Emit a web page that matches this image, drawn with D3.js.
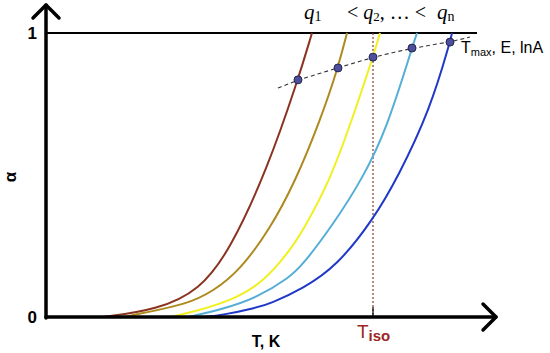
<!DOCTYPE html>
<html>
<head>
<meta charset="utf-8">
<script src="https://cdn.jsdelivr.net/npm/d3@7"></script>
<style>
  body { margin: 0; background: #fff; }
  svg { display: block; }
</style>
</head>
<body>
<svg width="550" height="353"></svg>
<script>
// conversion curves alpha(T) (T in arbitrary units)
var brownT = [57, 111, 154, 184, 221, 252, 266];
var brownA = [0, 0.025, 0.095, 0.236, 0.518, 0.835, 1];
var oliveT = [79, 94, 141, 167, 194, 224, 249, 274, 292, 301];
var oliveA = [0, 0.012, 0.045, 0.09, 0.165, 0.31, 0.475, 0.69, 0.877, 1];
var yellowT = [124, 144, 184, 217, 244, 257, 284, 307, 327, 334];
var yellowA = [0, 0.015, 0.055, 0.12, 0.235, 0.305, 0.48, 0.705, 0.915, 1];
var cyanT = [142, 177, 211, 244, 257, 287, 317, 341, 366, 371];
var cyanA = [0, 0.028, 0.068, 0.14, 0.185, 0.325, 0.49, 0.665, 0.947, 1];
var blueT = [157, 177, 211, 224, 257, 291, 327, 352, 384, 404, 406];
var blueA = [0, 0.007, 0.033, 0.047, 0.1, 0.18, 0.342, 0.493, 0.73, 0.968, 1];

var curveColors = ["#8a3320", "#ad8a1f", "#f0f020", "#55aed6", "#2038c8"];

// Tmax points and the dashed trend through them
var dotT = [252, 292, 327, 366, 404];
var dotA = [0.835, 0.877, 0.915, 0.947, 0.968];
var trendT = [232, 252, 292, 327, 366, 404, 424];
var trendA = [0.806, 0.835, 0.877, 0.915, 0.947, 0.968, 0.986];

var tIso = 327;
var alphaTicks = [0, 1];

var svg = d3.select("svg");
var x = d3.scaleLinear().domain([0, 450]).range([46, 496]);
var y = d3.scaleLinear().domain([0, 1]).range([317, 33]);

function zip(ts, as) {
    return ts.map(function (t, i) { return [t, as[i]]; });
}
var line = d3.line()
    .x(function (d) { return x(d[0]); })
    .y(function (d) { return y(d[1]); })
    .curve(d3.curveBasis);

// alpha = 1 line
svg.append("line")
    .attr("x1", x(0)).attr("x2", x(431))
    .attr("y1", y(1)).attr("y2", y(1))
    .attr("stroke", "#000").attr("stroke-width", 2);

// Tiso marker
svg.append("line")
    .attr("x1", x(tIso)).attr("x2", x(tIso))
    .attr("y1", y(1)).attr("y2", y(0))
    .attr("stroke", "#8b3a2a").attr("stroke-width", 1.2)
    .attr("stroke-dasharray", "2,2");
svg.append("line")
    .attr("x1", x(tIso)).attr("x2", x(tIso))
    .attr("y1", y(0) - 10).attr("y2", y(0))
    .attr("stroke", "#000").attr("stroke-width", 1.2);

var series = [zip(brownT, brownA), zip(oliveT, oliveA), zip(yellowT, yellowA), zip(cyanT, cyanA), zip(blueT, blueA)];
svg.append("g")
    .selectAll("path")
    .data(series)
    .join("path")
    .attr("d", line)
    .attr("fill", "none")
    .attr("stroke", function (d, i) { return curveColors[i]; })
    .attr("stroke-width", 2);

svg.append("path")
    .attr("d", line(zip(trendT, trendA)))
    .attr("fill", "none")
    .attr("stroke", "#333")
    .attr("stroke-width", 1.1)
    .attr("stroke-dasharray", "4,3");

svg.append("g")
    .selectAll("circle")
    .data(zip(dotT, dotA))
    .join("circle")
    .attr("cx", function (d) { return x(d[0]); })
    .attr("cy", function (d) { return y(d[1]); })
    .attr("r", 4)
    .attr("fill", "#4d4f9c")
    .attr("stroke", "#22264e")
    .attr("stroke-width", 1);

// axes with arrows
var ax = svg.append("g").attr("stroke", "#000").attr("stroke-width", 3.5)
    .attr("fill", "none").attr("stroke-linecap", "round").attr("stroke-linejoin", "round");
ax.append("line").attr("x1", x(0)).attr("x2", x(0)).attr("y1", y(0) + 1).attr("y2", 5);
ax.append("polyline").attr("points", [[x(0) - 13, 18], [x(0), 5], [x(0) + 13, 18]].join(" "));
ax.append("line").attr("x1", x(0)).attr("x2", x(450)).attr("y1", y(0)).attr("y2", y(0));
ax.append("polyline").attr("points", [[x(450) - 13, y(0) - 13], [x(450), y(0)], [x(450) - 13, y(0) + 13]].join(" "));

// alpha tick labels
svg.append("g")
    .selectAll("text")
    .data(alphaTicks)
    .join("text")
    .attr("x", 37)
    .attr("y", function (d) { return y(d) + 6; })
    .attr("text-anchor", "end")
    .attr("font-family", "Liberation Sans, sans-serif")
    .attr("font-weight", "bold")
    .attr("font-size", 17)
    .text(function (d) { return d; });

svg.append("text")
    .attr("transform", "translate(16,177) rotate(-90)")
    .attr("text-anchor", "middle")
    .attr("font-family", "Liberation Sans, sans-serif")
    .attr("font-weight", "bold")
    .attr("font-size", 17)
    .text("α");

svg.append("text")
    .attr("x", 266).attr("y", 347)
    .attr("text-anchor", "middle")
    .attr("font-family", "Liberation Sans, sans-serif")
    .attr("font-weight", "bold")
    .attr("font-size", 16)
    .text("T, K");

var iso = svg.append("text")
    .attr("x", 357).attr("y", 338)
    .attr("fill", "#9a2626")
    .attr("font-family", "Liberation Sans, sans-serif")
    .attr("font-size", 19);
iso.append("tspan").text("T");
iso.append("tspan").attr("dy", 3).attr("font-size", 15).attr("font-weight", "bold").text("iso");

// heating rate labels
var qFont = "Liberation Serif, serif";
var q1 = svg.append("text").attr("x", 304).attr("y", 19).attr("font-family", qFont).attr("font-size", 21);
q1.append("tspan").attr("font-style", "italic").text("q");
q1.append("tspan").attr("dy", 2).attr("font-size", 14).text("1");
var q2 = svg.append("text").attr("x", 347).attr("y", 19).attr("font-family", qFont).attr("font-size", 20);
q2.append("tspan").text("< ");
q2.append("tspan").attr("font-style", "italic").text("q");
q2.append("tspan").attr("dy", 2).attr("font-size", 13).text("2");
q2.append("tspan").attr("dy", -2).text(", … <");
var qn = svg.append("text").attr("x", 437).attr("y", 19).attr("font-family", qFont).attr("font-size", 21);
qn.append("tspan").attr("font-style", "italic").text("q");
qn.append("tspan").attr("dy", 2).attr("font-size", 14).text("n");

var tm = svg.append("text").attr("x", 461).attr("y", 53)
    .attr("font-family", "Liberation Sans, sans-serif").attr("font-size", 16);
tm.append("tspan").text("T");
tm.append("tspan").attr("dy", 3).attr("font-size", 11).text("max");
tm.append("tspan").attr("dy", -3).text(", E, lnA");
</script>
</body>
</html>
